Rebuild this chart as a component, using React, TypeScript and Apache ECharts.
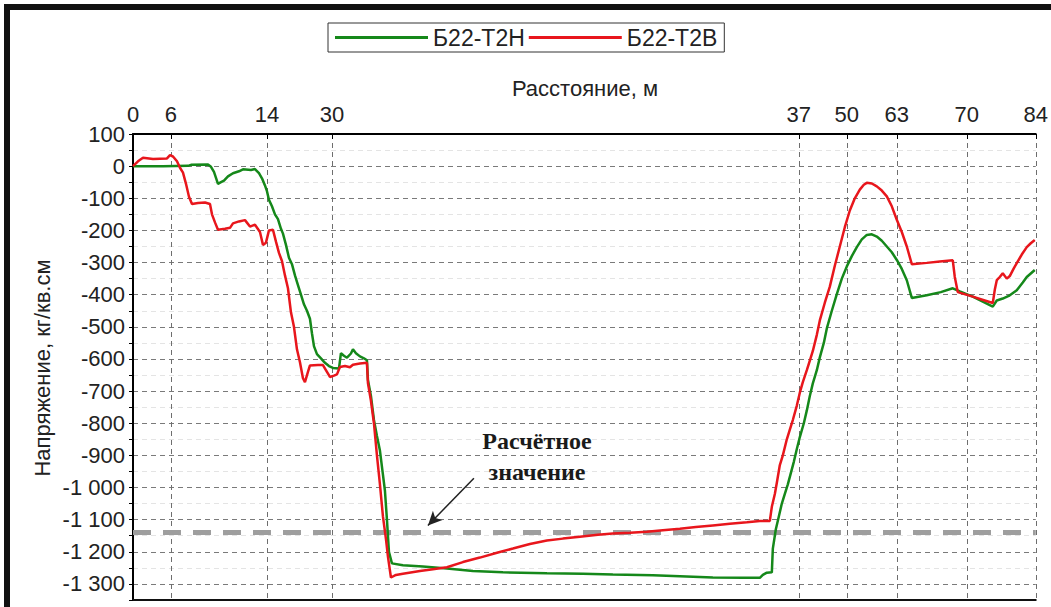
import React, { useEffect, useRef } from 'react';
import * as echarts from 'echarts';

const FONT = '"Liberation Sans", Arial, sans-serif';

// Sample index axis (non-uniform distance marks)
const xMax = 903;
const tickPositions = [0, 38, 134, 199, 666, 714, 764, 834, 903];
const tickLabels = ['0', '6', '14', '30', '37', '50', '63', '70', '84'];

const yMin = -1350;
const yMax = 100;
const designValue = -1140;

const seriesNames = ['Б22-Т2Н', 'Б22-Т2В'];
const xAxisName = 'Расстояние, м';
const yAxisName = 'Напряжение, кг/кв.см';
const annotationText = 'Расчётное\nзначение';
const arrowFrom = [341, -971];
const arrowTo = [295, -1118];

const greenData: [number, number][] = [
  [0, 0], [30, 0], [55, 1], [58, 4], [75, 5], [78, -2], [81, -18], [85, -55], [88, -50], [91, -45],
  [95, -32], [100, -22], [106, -16], [110, -10], [118, -12], [122, -9], [126, -22], [129, -38], [132, -60],
  [134, -78], [136, -105], [139, -125], [142, -150], [145, -165], [148, -195], [150, -210], [153, -245],
  [156, -285], [159, -305], [162, -340], [165, -370], [168, -400], [171, -430], [174, -450], [177, -475],
  [179, -520], [181, -560], [184, -585], [188, -598], [192, -612], [196, -622], [200, -628], [206, -630],
  [208, -582], [211, -590], [214, -596], [218, -583], [220, -570], [223, -582], [227, -592], [231, -598],
  [234, -604], [235, -665], [238, -715], [241, -790], [244, -840], [247, -885], [250, -960], [252, -1010],
  [254, -1100], [256, -1200], [259, -1236], [270, -1242], [290, -1246], [314, -1252], [340, -1260],
  [370, -1264], [414, -1267], [450, -1268], [480, -1271], [520, -1273], [547, -1276], [580, -1280],
  [610, -1281], [627, -1281], [630, -1272], [634, -1265], [639, -1264], [640, -1190], [643, -1130],
  [646, -1090], [649, -1050], [652, -1020], [655, -990], [658, -955], [661, -920], [664, -880], [667, -843],
  [671, -800], [674, -760], [677, -715], [680, -676], [684, -635], [687, -595], [691, -550], [694, -505],
  [699, -450], [704, -398], [709, -350], [714, -312], [719, -280], [724, -252], [729, -228], [734, -214],
  [739, -212], [744, -219], [749, -232], [754, -250], [759, -268], [764, -292], [769, -320], [774, -355],
  [779, -410], [794, -402], [808, -392], [820, -380], [827, -390], [840, -406], [852, -425], [860, -437],
  [864, -418], [870, -412], [876, -404], [884, -386], [890, -362], [894, -345], [902, -323],
];

const redData: [number, number][] = [
  [0, 0], [5, 15], [10, 26], [20, 22], [34, 24], [37, 34], [40, 30], [44, 15], [47, -5], [50, -20],
  [53, -55], [56, -95], [59, -118], [65, -115], [72, -113], [77, -118], [79, -150], [82, -175], [85, -198],
  [92, -195], [97, -192], [100, -178], [106, -172], [112, -168], [117, -188], [122, -182], [127, -205],
  [130, -245], [133, -238], [136, -200], [140, -198], [143, -235], [146, -270], [149, -295], [152, -340],
  [155, -380], [158, -455], [161, -500], [164, -570], [167, -610], [170, -660], [172, -672], [175, -640],
  [177, -620], [185, -619], [190, -619], [194, -640], [197, -656], [201, -652], [204, -648], [207, -625],
  [212, -622], [217, -626], [220, -618], [227, -614], [234, -612], [235, -675], [238, -730], [241, -800],
  [244, -900], [247, -990], [250, -1090], [253, -1160], [255, -1215], [258, -1280], [263, -1272],
  [270, -1268], [287, -1260], [300, -1254], [314, -1248], [330, -1232], [347, -1218], [365, -1202],
  [380, -1190], [397, -1176], [414, -1165], [430, -1159], [447, -1153], [465, -1147], [480, -1143],
  [497, -1141], [514, -1138], [530, -1133], [547, -1128], [563, -1123], [580, -1118], [597, -1113],
  [614, -1108], [627, -1104], [637, -1104], [639, -1060], [642, -1020], [644, -985], [647, -930],
  [650, -900], [654, -850], [657, -820], [660, -790], [664, -745], [667, -705], [670, -672], [674, -635],
  [677, -605], [680, -575], [684, -525], [687, -480], [692, -425], [697, -375], [702, -310], [707, -250],
  [712, -190], [717, -138], [722, -100], [727, -73], [731, -58], [734, -52], [739, -54], [744, -63],
  [749, -76], [754, -94], [759, -125], [764, -167], [769, -205], [774, -250], [779, -305], [794, -301],
  [807, -297], [820, -293], [822, -345], [825, -392], [840, -406], [852, -418], [860, -426], [862, -385],
  [864, -355], [867, -345], [870, -333], [874, -350], [877, -342], [881, -318], [884, -302], [889, -275],
  [894, -252], [898, -240], [902, -230],
];

const GREEN = '#15881a';
const RED = '#e8161c';

function xLabel(v: number): string {
  let best = 0;
  for (let i = 1; i < tickPositions.length; i++) {
    if (Math.abs(tickPositions[i] - v) < Math.abs(tickPositions[best] - v)) best = i;
  }
  return tickLabels[best];
}

function yLabel(v: number): string {
  if (Math.round(v) % 100 !== 0) return '';
  const a = Math.abs(v);
  const s = a >= 1000 ? Math.floor(a / 1000) + ' ' + String(a % 1000).padStart(3, '0') : String(a);
  return (v < 0 ? '-' : '') + s;
}

export default function App() {
  const ref = useRef<HTMLDivElement>(null);
  useEffect(() => {
    if (!ref.current) return;
    const chart = echarts.init(ref.current, null, { renderer: 'svg' });
    const option: any = {
      animation: false,
      backgroundColor: '#ffffff',
      textStyle: { fontFamily: FONT },
      legend: {
        left: 328,
        top: 23,
        data: [
          { name: seriesNames[0], icon: 'rect' },
          { name: seriesNames[1], icon: 'rect' },
        ],
        itemWidth: 93,
        itemHeight: 3,
        itemGap: 4,
        borderColor: '#333',
        borderWidth: 1,
        padding: [3, 7],
        textStyle: { fontSize: 23, color: '#222', fontFamily: FONT },
      },
      grid: { left: 133, top: 134, right: 15, bottom: 7 },
      xAxis: [
        {
          type: 'value',
          position: 'top',
          min: 0,
          max: xMax,
          axisLine: { show: true, onZero: false, lineStyle: { color: '#000', width: 2 } },
          axisTick: { show: true, inside: true, length: 5, customValues: tickPositions, lineStyle: { color: '#000' } },
          axisLabel: {
            customValues: tickPositions,
            formatter: (v: number) => xLabel(v),
            fontSize: 22,
            color: '#222',
            margin: 9,
            fontFamily: FONT,
          },
          splitLine: { show: true, lineStyle: { color: '#6e6e6e', type: [5, 4], width: 1 } },
        },
        {
          type: 'value',
          position: 'bottom',
          min: 0,
          max: xMax,
          axisLine: { show: true, onZero: false, lineStyle: { color: '#111', width: 2 } },
          axisTick: { show: false },
          axisLabel: { show: false },
          splitLine: { show: false },
        },
      ],
      yAxis: {
        type: 'value',
        min: yMin,
        max: yMax,
        interval: 50,
        axisLine: { show: true, onZero: false, lineStyle: { color: '#000', width: 2 } },
        axisTick: { show: true, length: 4, lineStyle: { color: '#000' } },
        axisLabel: { formatter: (v: number) => yLabel(v), fontSize: 22, color: '#222', margin: 8, fontFamily: FONT },
        splitLine: { show: true, lineStyle: { color: ['#e4e4e4', '#7a7a7a'], type: [5, 4], width: 1 } },
      },
      series: [
        {
          name: seriesNames[0],
          type: 'line',
          data: greenData,
          showSymbol: false,
          symbol: 'none',
          lineStyle: { color: GREEN, width: 2.5 },
          itemStyle: { color: GREEN },
          z: 3,
          markLine: {
            silent: true,
            symbol: ['none', 'none'],
            label: { show: false },
            lineStyle: { color: '#9e9e9e', width: 5, type: [18, 12] },
            data: [{ yAxis: designValue }],
            z: 2,
          },
        },
        {
          name: seriesNames[1],
          type: 'line',
          data: redData,
          showSymbol: false,
          symbol: 'none',
          lineStyle: { color: RED, width: 2.5 },
          itemStyle: { color: RED },
          z: 4,
          markLine: {
            silent: true,
            symbol: ['none', 'arrow'],
            symbolSize: [10, 14],
            label: { show: false },
            lineStyle: { color: '#222', width: 1.5, type: 'solid' },
            data: [[{ coord: arrowFrom }, { coord: arrowTo }]],
          },
        },
      ],
      graphic: [
        {
          type: 'rect',
          silent: true,
          shape: { x: 7, y: 7, width: 1200, height: 800 },
          style: { fill: 'none', stroke: '#111', lineWidth: 6 },
          z: 100,
        },
        {
          type: 'text',
          silent: true,
          x: 585,
          y: 88,
          style: {
            text: xAxisName,
            fill: '#222',
            font: `22px ${FONT}`,
            textAlign: 'center',
            textVerticalAlign: 'middle',
          },
        },
        {
          type: 'text',
          silent: true,
          x: 42,
          y: 368,
          rotation: Math.PI / 2,
          style: {
            text: yAxisName,
            fill: '#222',
            font: `22px ${FONT}`,
            textAlign: 'center',
            textVerticalAlign: 'middle',
          },
        },
        {
          type: 'text',
          silent: true,
          x: 537,
          y: 456,
          style: {
            text: annotationText,
            fill: '#1a1a1a',
            font: `bold 24px "Liberation Serif", "Times New Roman", serif`,
            textAlign: 'center',
            textVerticalAlign: 'middle',
            lineHeight: 31,
          },
          z: 10,
        },
      ],
    };
    chart.setOption(option);
    return () => chart.dispose();
  }, []);
  return (
    <div
      ref={ref}
      style={{ position: 'fixed', left: 0, top: 0, width: 1051, height: 607, background: '#fff' }}
    />
  );
}
